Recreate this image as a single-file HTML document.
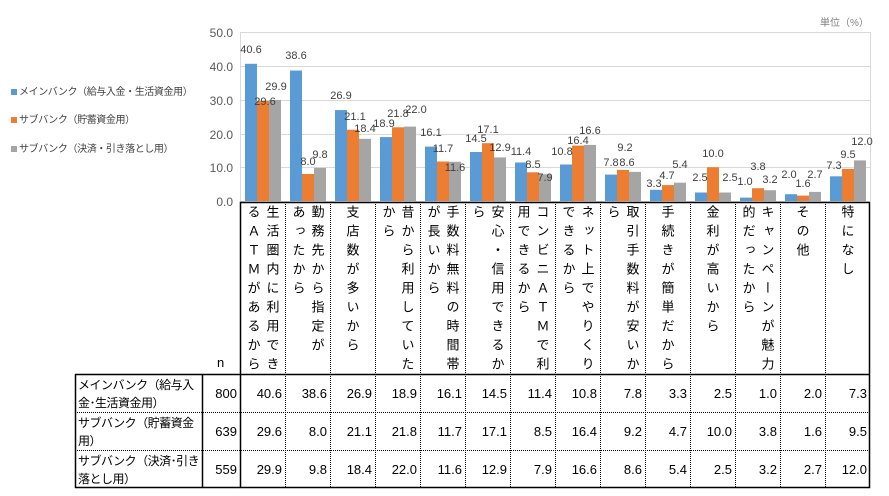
<!DOCTYPE html>
<html><head><meta charset="utf-8"><style>
body{margin:0;width:889px;height:496px;background:#fff;position:relative;overflow:hidden;font-family:"Liberation Sans","Noto Sans CJK JP",sans-serif;color:#000}
.a{position:absolute}
.v{position:absolute;top:205px;width:19px;margin-left:-9.5px;writing-mode:vertical-rl;text-orientation:upright;font-size:13px;letter-spacing:6px;line-height:19px;white-space:nowrap}
.c{position:absolute;width:41px;text-align:right;font-size:13px;height:38px;line-height:38px}
.rl{position:absolute;left:78px;width:124px;font-size:12px;line-height:18px;letter-spacing:-0.5px}
.leg{position:absolute;left:19px;font-size:10px;color:#404040;white-space:nowrap;letter-spacing:-0.4px}
.sq{position:absolute;left:11px;width:6px;height:6px}
</style></head><body>
<div class="a" style="left:820px;top:14px;font-size:10px;color:#808080">単位（%）</div>
<div class="sq" style="top:89px;background:#5b9bd5"></div><div class="leg" style="top:83px">メインバンク（給与入金・生活資金用）</div>
<div class="sq" style="top:117px;background:#ed7d31"></div><div class="leg" style="top:111px">サブバンク（貯蓄資金用）</div>
<div class="sq" style="top:146px;background:#a5a5a5"></div><div class="leg" style="top:140px">サブバンク（決済・引き落とし用）</div>
<svg class="a" style="left:0;top:0" width="889" height="496">
<g stroke="#d9d9d9" stroke-width="1">
<line x1="240" y1="32.5" x2="870" y2="32.5"/><line x1="240" y1="66.5" x2="870" y2="66.5"/><line x1="240" y1="100.5" x2="870" y2="100.5"/><line x1="240" y1="134.5" x2="870" y2="134.5"/><line x1="240" y1="167.5" x2="870" y2="167.5"/><line x1="870.5" y1="32" x2="870.5" y2="201"/><line x1="240.5" y1="32" x2="240.5" y2="201"/>
</g>
<g font-size="12" fill="#595959" text-anchor="end" font-family="Liberation Sans">
<text x="233" y="37">50.0</text><text x="233" y="71">40.0</text><text x="233" y="105">30.0</text><text x="233" y="139">20.0</text><text x="233" y="172">10.0</text><text x="233" y="206">0.0</text>
</g>
<g fill="#5b9bd5">
<rect x="245" y="63.8" width="12" height="137.2"/><rect x="290" y="70.5" width="12" height="130.5"/><rect x="335" y="110.1" width="12" height="90.9"/><rect x="380" y="137.1" width="12" height="63.9"/><rect x="425" y="146.6" width="12" height="54.4"/><rect x="470" y="152" width="12" height="49"/><rect x="515" y="162.5" width="12" height="38.5"/><rect x="560" y="164.5" width="12" height="36.5"/><rect x="605" y="174.6" width="12" height="26.4"/><rect x="650" y="189.8" width="12" height="11.2"/><rect x="695" y="192.5" width="12" height="8.5"/><rect x="740" y="197.6" width="12" height="3.4"/><rect x="785" y="194.2" width="12" height="6.8"/><rect x="830" y="176.3" width="12" height="24.7"/>
</g>
<g fill="#ed7d31">
<rect x="257" y="101" width="12" height="100"/><rect x="302" y="174" width="12" height="27"/><rect x="347" y="129.7" width="12" height="71.3"/><rect x="392" y="127.3" width="12" height="73.7"/><rect x="437" y="161.5" width="12" height="39.5"/><rect x="482" y="143.2" width="12" height="57.8"/><rect x="527" y="172.3" width="12" height="28.7"/><rect x="572" y="145.6" width="12" height="55.4"/><rect x="617" y="169.9" width="12" height="31.1"/><rect x="662" y="185.1" width="12" height="15.9"/><rect x="707" y="167.2" width="12" height="33.8"/><rect x="752" y="188.2" width="12" height="12.8"/><rect x="797" y="195.6" width="12" height="5.4"/><rect x="842" y="168.9" width="12" height="32.1"/>
</g>
<g fill="#a5a5a5">
<rect x="269" y="99.9" width="12" height="101.1"/><rect x="314" y="167.9" width="12" height="33.1"/><rect x="359" y="138.8" width="12" height="62.2"/><rect x="404" y="126.6" width="12" height="74.4"/><rect x="449" y="161.8" width="12" height="39.2"/><rect x="494" y="157.4" width="12" height="43.6"/><rect x="539" y="174.3" width="12" height="26.7"/><rect x="584" y="144.9" width="12" height="56.1"/><rect x="629" y="171.9" width="12" height="29.1"/><rect x="674" y="182.7" width="12" height="18.3"/><rect x="719" y="192.5" width="12" height="8.5"/><rect x="764" y="190.2" width="12" height="10.8"/><rect x="809" y="191.9" width="12" height="9.1"/><rect x="854" y="160.4" width="12" height="40.6"/>
</g>
<line x1="240" y1="201.5" x2="870" y2="201.5" stroke="#d9d9d9"/>
<g font-size="11" fill="#404040" text-anchor="middle" font-family="Liberation Sans">
<text x="251" y="53">40.6</text><text x="265" y="105">29.6</text><text x="276" y="90">29.9</text>
<text x="296" y="59">38.6</text><text x="308" y="165">8.0</text><text x="320" y="158">9.8</text>
<text x="341" y="99">26.9</text><text x="355" y="120">21.1</text><text x="365" y="132">18.4</text>
<text x="384" y="127">18.9</text><text x="398" y="117">21.8</text><text x="416" y="113">22.0</text>
<text x="431" y="136">16.1</text><text x="443" y="152">11.7</text><text x="455" y="171">11.6</text>
<text x="476" y="142">14.5</text><text x="488" y="133">17.1</text><text x="500" y="151">12.9</text>
<text x="521" y="155">11.4</text><text x="533" y="168">8.5</text><text x="545" y="181">7.9</text>
<text x="562" y="155">10.8</text><text x="578" y="144">16.4</text><text x="590" y="134">16.6</text>
<text x="611" y="166">7.8</text><text x="627" y="166">8.6</text><text x="625" y="151">9.2</text>
<text x="654" y="187">3.3</text><text x="667" y="179">4.7</text><text x="680" y="168">5.4</text>
<text x="700" y="181">2.5</text><text x="713" y="157">10.0</text><text x="730" y="181">2.5</text>
<text x="745" y="185">1.0</text><text x="758" y="170">3.8</text><text x="770" y="183">3.2</text>
<text x="789" y="178">2.0</text><text x="803" y="187">1.6</text><text x="815" y="178">2.7</text>
<text x="834" y="169">7.3</text><text x="848" y="158">9.5</text><text x="862" y="145">12.0</text>
</g>
<g stroke="#000" stroke-width="1.5" fill="none">
<rect x="240.5" y="202.5" width="629" height="285"/>
<line x1="75" y1="374.5" x2="870" y2="374.5"/><line x1="75.5" y1="374" x2="75.5" y2="488"/><line x1="75" y1="487.5" x2="240" y2="487.5"/><line x1="202.5" y1="374" x2="202.5" y2="488"/>
</g>
<g stroke="#000" stroke-width="1" stroke-dasharray="1,1">
<line x1="75" y1="412.5" x2="870" y2="412.5"/><line x1="75" y1="450.5" x2="870" y2="450.5"/>
<line x1="285.5" y1="202" x2="285.5" y2="488"/><line x1="330.5" y1="202" x2="330.5" y2="488"/><line x1="375.5" y1="202" x2="375.5" y2="488"/><line x1="420.5" y1="202" x2="420.5" y2="488"/><line x1="465.5" y1="202" x2="465.5" y2="488"/><line x1="510.5" y1="202" x2="510.5" y2="488"/><line x1="555.5" y1="202" x2="555.5" y2="488"/><line x1="600.5" y1="202" x2="600.5" y2="488"/><line x1="645.5" y1="202" x2="645.5" y2="488"/><line x1="690.5" y1="202" x2="690.5" y2="488"/><line x1="735.5" y1="202" x2="735.5" y2="488"/><line x1="780.5" y1="202" x2="780.5" y2="488"/><line x1="825.5" y1="202" x2="825.5" y2="488"/>
</g>
</svg>
<div class="v" style="left:272px">生活圏内に利用でき</div><div class="v" style="left:253px">るＡＴＭがあるから</div>
<div class="v" style="left:317px">勤務先から指定が</div><div class="v" style="left:298px">あったから</div>
<div class="v" style="left:352px">支店数が多いから</div>
<div class="v" style="left:407px">昔から利用していた</div><div class="v" style="left:388px">から</div>
<div class="v" style="left:452px">手数料無料の時間帯</div><div class="v" style="left:433px">が長いから</div>
<div class="v" style="left:497px">安心・信用できるか</div><div class="v" style="left:478px">ら</div>
<div class="v" style="left:542px">コンビニＡＴＭで利</div><div class="v" style="left:523px">用できるから</div>
<div class="v" style="left:587px">ネット上でやりくり</div><div class="v" style="left:568px">できるから</div>
<div class="v" style="left:632px">取引手数料が安いか</div><div class="v" style="left:613px">ら</div>
<div class="v" style="left:667px">手続きが簡単だから</div>
<div class="v" style="left:712px">金利が高いから</div>
<div class="v" style="left:767px">キャンペーンが魅力</div><div class="v" style="left:748px">的だったから</div>
<div class="v" style="left:802px">その他</div>
<div class="v" style="left:847px">特になし</div>
<div class="a" style="left:217px;top:355px;font-size:13px">n</div>
<div class="rl" style="top:376px">メインバンク（給与入<br>金･生活資金用）</div>
<div class="rl" style="top:414px">サブバンク（貯蓄資金<br>用）</div>
<div class="rl" style="top:452px">サブバンク（決済･引き<br>落とし用）</div>
<div class="c" style="left:196px;top:375px">800</div><div class="c" style="left:196px;top:413px">639</div><div class="c" style="left:196px;top:451px">559</div>
<div class="c" style="left:241px;top:375px">40.6</div><div class="c" style="left:286px;top:375px">38.6</div><div class="c" style="left:331px;top:375px">26.9</div><div class="c" style="left:376px;top:375px">18.9</div><div class="c" style="left:421px;top:375px">16.1</div><div class="c" style="left:466px;top:375px">14.5</div><div class="c" style="left:511px;top:375px">11.4</div><div class="c" style="left:556px;top:375px">10.8</div><div class="c" style="left:601px;top:375px">7.8</div><div class="c" style="left:646px;top:375px">3.3</div><div class="c" style="left:691px;top:375px">2.5</div><div class="c" style="left:736px;top:375px">1.0</div><div class="c" style="left:781px;top:375px">2.0</div><div class="c" style="left:826px;top:375px">7.3</div>
<div class="c" style="left:241px;top:413px">29.6</div><div class="c" style="left:286px;top:413px">8.0</div><div class="c" style="left:331px;top:413px">21.1</div><div class="c" style="left:376px;top:413px">21.8</div><div class="c" style="left:421px;top:413px">11.7</div><div class="c" style="left:466px;top:413px">17.1</div><div class="c" style="left:511px;top:413px">8.5</div><div class="c" style="left:556px;top:413px">16.4</div><div class="c" style="left:601px;top:413px">9.2</div><div class="c" style="left:646px;top:413px">4.7</div><div class="c" style="left:691px;top:413px">10.0</div><div class="c" style="left:736px;top:413px">3.8</div><div class="c" style="left:781px;top:413px">1.6</div><div class="c" style="left:826px;top:413px">9.5</div>
<div class="c" style="left:241px;top:451px">29.9</div><div class="c" style="left:286px;top:451px">9.8</div><div class="c" style="left:331px;top:451px">18.4</div><div class="c" style="left:376px;top:451px">22.0</div><div class="c" style="left:421px;top:451px">11.6</div><div class="c" style="left:466px;top:451px">12.9</div><div class="c" style="left:511px;top:451px">7.9</div><div class="c" style="left:556px;top:451px">16.6</div><div class="c" style="left:601px;top:451px">8.6</div><div class="c" style="left:646px;top:451px">5.4</div><div class="c" style="left:691px;top:451px">2.5</div><div class="c" style="left:736px;top:451px">3.2</div><div class="c" style="left:781px;top:451px">2.7</div><div class="c" style="left:826px;top:451px">12.0</div>
</body></html>
